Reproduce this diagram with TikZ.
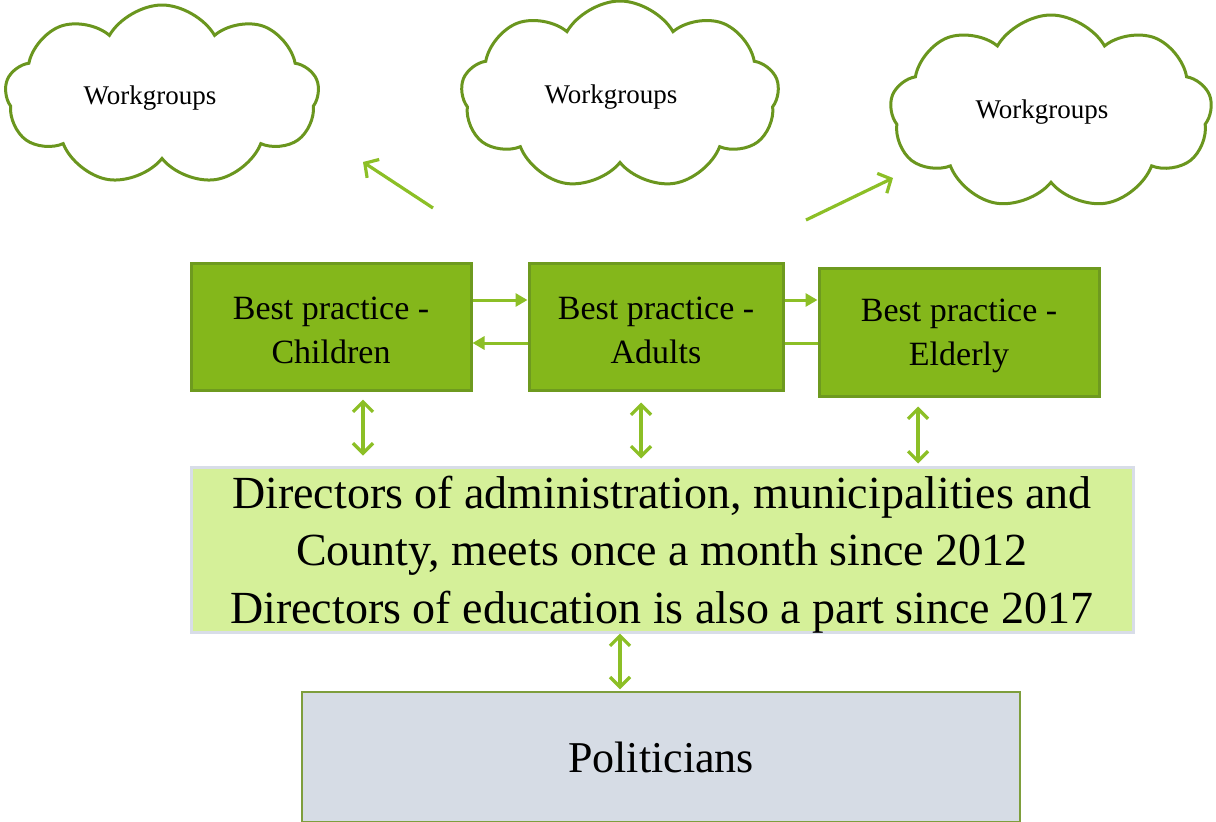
\documentclass[tikz,border=0pt]{standalone}
\usepackage{fontspec}
\setmainfont{Liberation Serif}
\usetikzlibrary{shapes.symbols,arrows.meta,calc}
\definecolor{boxgreen}{HTML}{84B71B}
\definecolor{boxedge}{HTML}{6E9A1F}
\definecolor{arrowgreen}{HTML}{8CBF26}
\definecolor{cloudedge}{HTML}{6A961E}
\definecolor{dirfill}{HTML}{D5F099}
\definecolor{diredge}{HTML}{D8DDE8}
\definecolor{polfill}{HTML}{D6DCE5}
\definecolor{poledge}{HTML}{7E9E3C}
\tikzset{
  cloudbox/.style={cloud, cloud puffs=9, cloud puff arc=120, cloud ignores aspect, draw=cloudedge, line width=3pt, fill=white, inner sep=0pt},
  wtext/.style={font=\fontsize{27}{30}\selectfont, text=black},
  bpbox/.style={draw=boxedge, line width=3pt, fill=boxgreen, inner sep=0pt},
  bptext/.style={align=center, inner sep=0pt, font=\fontsize{34}{44}\selectfont},
  tri/.style={draw=arrowgreen, line width=3pt, -{Triangle[length=12pt,width=13pt]}},
  plainline/.style={draw=arrowgreen, line width=3pt},
  dbl/.style={draw=arrowgreen, line width=3.2pt, {Straight Barb[length=10pt,width=20pt]}-{Straight Barb[length=10pt,width=20pt]}},
  sgl/.style={draw=arrowgreen, line width=3.2pt, -{Straight Barb[length=10pt,width=22pt]}},
}
\begin{document}
\begin{tikzpicture}[x=1pt,y=-1pt]
\useasboundingbox (0,0) rectangle (1216,822);
% clouds
\node[cloudbox, minimum width=314pt, minimum height=180pt] (c1) at (162,95) {};
\node[wtext] (w1) at (150,98) {Workgroups};
\node[cloudbox, minimum width=318pt, minimum height=188pt] (c2) at (620,95) {};
\node[wtext] (w2) at (611,97) {Workgroups};
\node[cloudbox, minimum width=322pt, minimum height=194pt] (c3) at (1051,112) {};
\node[wtext] (w3) at (1042,112) {Workgroups};
% diagonal arrows
\coordinate (a1s) at (433,208);
\coordinate (a1e) at (363,162);
\coordinate (a2s) at (806,220);
\coordinate (a2e) at (893,178);
\draw[sgl] (a1s) -- (a1e);
\draw[sgl] (a2s) -- (a2e);
% best practice boxes
\node[bpbox, minimum width=280pt, minimum height=127pt] (b1) at (331,326.5) {};
\node[bptext] (t1) at ([yshift=-4pt]b1.center) {Best practice -\\Children};
\node[bpbox, minimum width=254pt, minimum height=127pt] (b2) at (656,326.5) {};
\node[bptext] (t2) at ([yshift=-4pt]b2.center) {Best practice -\\Adults};
\node[bpbox, minimum width=280pt, minimum height=128pt] (b3) at (959,332) {};
\node[bptext] (t3) at ([yshift=-4pt]b3.center) {Best practice -\\Elderly};
% horizontal arrows
\draw[tri] ([yshift=26.5pt]b1.east) -- ([yshift=26.5pt]b1.east -| b2.west);
\draw[tri] ([yshift=-16.5pt]b2.west) -- ([yshift=-16.5pt]b2.west -| b1.east);
\draw[tri] ([yshift=26.5pt]b2.east) -- ([yshift=26.5pt]b2.east -| b3.west);
\draw[plainline] ([yshift=-16.5pt]b2.east) -- ([yshift=-16.5pt]b2.east -| b3.west);
% directors box
\node[draw=diredge, line width=3pt, fill=dirfill, minimum width=942pt, minimum height=165pt, inner sep=0pt] (dir) at (662,549.5) {};
\node[align=center, inner sep=0pt, font=\fontsize{46}{57.5}\selectfont] (dirt) at ([yshift=-5pt]dir.center)
  {Directors of administration, municipalities and\\County, meets once a month since 2012\\Directors of education is also a part since 2017};
% politicians
\node[draw=poledge, line width=1.5pt, fill=polfill, minimum width=718pt, minimum height=130pt, inner sep=0pt, font=\fontsize{44}{48}\selectfont] (pol) at (661,757) {Politicians};
% vertical double arrows
\coordinate (x1) at (363,0);
\coordinate (x2) at (641,0);
\coordinate (x3) at (918,0);
\coordinate (x4) at (620,0);
\draw[dbl, shorten <=8pt, shorten >=10pt] (b1.south -| x1) -- (dir.north -| x1);
\draw[dbl, shorten <=11pt, shorten >=7pt] (b2.south -| x2) -- (dir.north -| x2);
\draw[dbl, shorten <=9pt, shorten >=2pt] (b3.south -| x3) -- (dir.north -| x3);
\draw[dbl, shorten <=0pt, shorten >=2pt] (dir.south -| x4) -- (pol.north -| x4);
\end{tikzpicture}
\end{document}
